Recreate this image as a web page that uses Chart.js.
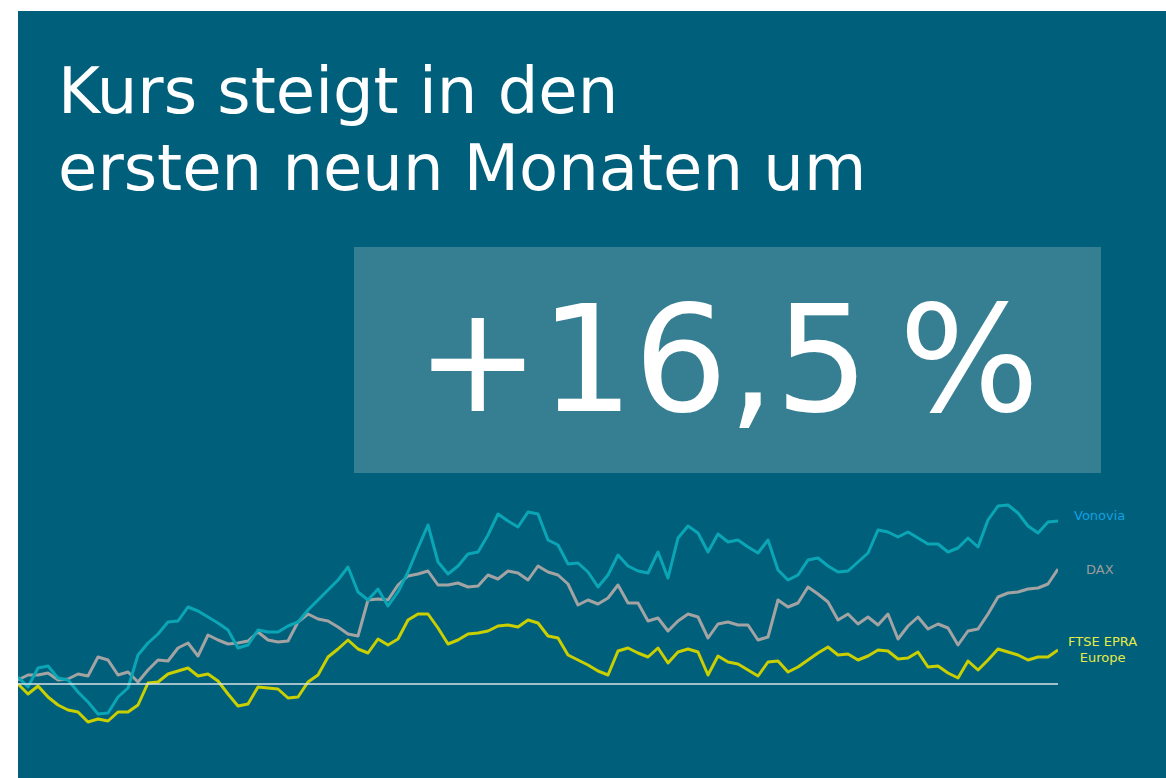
<!DOCTYPE html>
<html lang="de">
<head>
<meta charset="utf-8">
<title>Vonovia Kursentwicklung</title>
<script src="https://cdn.jsdelivr.net/npm/chart.js@4/dist/chart.umd.min.js"></script>
<style>
  html, body {
    margin: 0;
    padding: 0;
    background: #ffffff;
    width: 1166px;
    height: 778px;
    overflow: hidden;
    font-family: "DejaVu Sans", Verdana, sans-serif;
  }
  .panel {
    position: absolute;
    left: 18px;
    top: 11px;
    width: 1148px;
    height: 767px;
    background: #005f7b;
  }
  .title {
    position: absolute;
    left: 40px;
    top: 42px;
    margin: 0;
    color: #ffffff;
    font-weight: normal;
    font-size: 64px;
    line-height: 77px;
    white-space: nowrap;
  }
  .highlight {
    position: absolute;
    left: 336px;
    top: 236px;
    width: 747px;
    height: 226px;
    background: #367f93;
    color: #ffffff;
    font-size: 148px;
    line-height: 226px;
    text-align: center;
    white-space: nowrap;
  }
  .chart-box {
    position: absolute;
    left: 0px;
    top: 479px;
    width: 1040px;
    height: 250px;
  }
  .label {
    position: absolute;
    font-size: 13px;
    line-height: 16px;
    text-align: center;
    white-space: nowrap;
  }
</style>
</head>
<body>
<div class="panel">
  <h1 class="title">Kurs steigt in den<br>ersten neun Monaten um</h1>
  <div class="highlight">+16,5&#8201;%</div>
  <div class="chart-box"><canvas id="kursChart"></canvas></div>
  <div class="label" style="left:1056px; top:497px; color:#12a0e0;">Vonovia</div>
  <div class="label" style="left:1068px; top:551px; color:#9c9c9c;">DAX</div>
  <div class="label" style="left:1050px; top:623px; color:#e6ea48;">FTSE EPRA<br>Europe</div>
</div>

<script>
// Kursentwicklung seit Jahresanfang in % (ca. alle 2 Handelstage)
const vonovia = [
  0.7, -0.3, 1.6, 1.8, 0.6, 0.4, -0.8, -1.8, -3.0, -2.9,
  -1.3, -0.4, 2.9, 4.1, 5.0, 6.2, 6.3, 7.7, 7.3, 6.7,
  6.1, 5.4, 3.6, 3.9, 5.4, 5.2, 5.2, 5.8, 6.2, 7.4,
  8.4, 9.4, 10.4, 11.7, 9.2, 8.4, 9.5, 7.8, 9.2, 11.2,
  13.6, 15.9, 12.2, 11.0, 11.8, 13.0, 13.2, 14.9, 17.0, 16.3,
  15.7, 17.2, 17.0, 14.4, 13.9, 12.0, 12.1, 11.2, 9.7, 10.9,
  12.9, 11.8, 11.3, 11.1, 13.2, 10.6, 14.6, 15.8, 15.1, 13.2,
  15.0, 14.2, 14.4, 13.7, 13.1, 14.4, 11.4, 10.4, 10.9, 12.4,
  12.6, 11.8, 11.2, 11.3, 12.2, 13.1, 15.4, 15.2, 14.7, 15.2,
  14.6, 14.0, 14.0, 13.2, 13.6, 14.6, 13.7, 16.4, 17.8, 17.9,
  17.1, 15.8, 15.1, 16.2, 16.3
];
const dax = [
  0.4, 0.9, 0.9, 1.1, 0.4, 0.5, 1.0, 0.8, 2.7, 2.4,
  0.9, 1.2, 0.2, 1.4, 2.4, 2.3, 3.6, 4.1, 2.8, 4.9,
  4.4, 4.0, 4.1, 4.3, 5.2, 4.4, 4.2, 4.3, 6.2, 7.0,
  6.5, 6.3, 5.7, 5.0, 4.8, 8.4, 8.5, 8.4, 9.9, 10.8,
  11.0, 11.3, 9.9, 9.9, 10.1, 9.7, 9.8, 10.9, 10.5, 11.3,
  11.1, 10.4, 11.8, 11.2, 10.9, 10.0, 7.9, 8.4, 8.0, 8.6,
  9.9, 8.1, 8.1, 6.3, 6.6, 5.3, 6.3, 7.0, 6.7, 4.6,
  6.0, 6.2, 5.9, 5.9, 4.4, 4.7, 8.4, 7.7, 8.1, 9.7,
  9.0, 8.2, 6.4, 7.0, 6.0, 6.7, 5.9, 7.0, 4.5, 5.8,
  6.7, 5.5, 6.0, 5.6, 3.9, 5.3, 5.5, 7.0, 8.7, 9.1,
  9.2, 9.5, 9.6, 10.0, 11.5
];
const ftseEpra = [
  0.0, -1.0, -0.2, -1.3, -2.1, -2.6, -2.8, -3.8, -3.5, -3.7,
  -2.8, -2.8, -2.1, 0.1, 0.2, 1.0, 1.3, 1.6, 0.8, 1.0,
  0.3, -1.0, -2.2, -2.0, -0.3, -0.4, -0.5, -1.4, -1.3, 0.2,
  0.9, 2.7, 3.5, 4.4, 3.5, 3.1, 4.5, 3.9, 4.5, 6.4,
  7.0, 7.0, 5.6, 4.0, 4.4, 5.0, 5.1, 5.3, 5.8, 5.9,
  5.7, 6.4, 6.1, 4.8, 4.6, 2.9, 2.4, 1.9, 1.3, 0.9,
  3.3, 3.6, 3.1, 2.7, 3.6, 2.1, 3.2, 3.5, 3.2, 0.9,
  2.8, 2.2, 2.0, 1.4, 0.8, 2.2, 2.3, 1.2, 1.7, 2.4,
  3.1, 3.7, 2.9, 3.0, 2.4, 2.8, 3.4, 3.3, 2.5, 2.6,
  3.2, 1.7, 1.8, 1.1, 0.6, 2.3, 1.4, 2.4, 3.5, 3.2,
  2.9, 2.4, 2.7, 2.7, 3.4
];
// Basislinie (Jahresanfang = 0 %)
const basis = vonovia.map(() => 0);
const days = vonovia.map((_, i) => i);

const yMin = -5.6;
const yMax = 19.4;

document.addEventListener('DOMContentLoaded', function() {
  const ctx = document.getElementById('kursChart').getContext('2d');
  new Chart(ctx, {
    type: 'line',
    data: {
      labels: days,
      datasets: [
        {
          label: 'Basis',
          data: basis,
          borderColor: '#d9e2e6',
          borderWidth: 1.5,
          order: 0
        },
        {
          label: 'FTSE EPRA Europe',
          data: ftseEpra,
          borderColor: '#c9cf00',
          borderWidth: 3,
          order: 3
        },
        {
          label: 'DAX',
          data: dax,
          borderColor: '#a3a3a3',
          borderWidth: 3,
          order: 2
        },
        {
          label: 'Vonovia',
          data: vonovia,
          borderColor: '#0aa6b6',
          borderWidth: 3,
          order: 1
        }
      ]
    },
    options: {
      responsive: true,
      maintainAspectRatio: false,
      animation: false,
      clip: false,
      layout: { padding: 0 },
      elements: {
        point: { radius: 0 },
        line: { tension: 0, borderJoinStyle: 'round', fill: false }
      },
      plugins: {
        legend: { display: false },
        tooltip: { enabled: false }
      },
      scales: {
        x: { display: false, offset: false },
        y: { display: false, min: yMin, max: yMax }
      }
    }
  });
});
</script>
</body>
</html>
